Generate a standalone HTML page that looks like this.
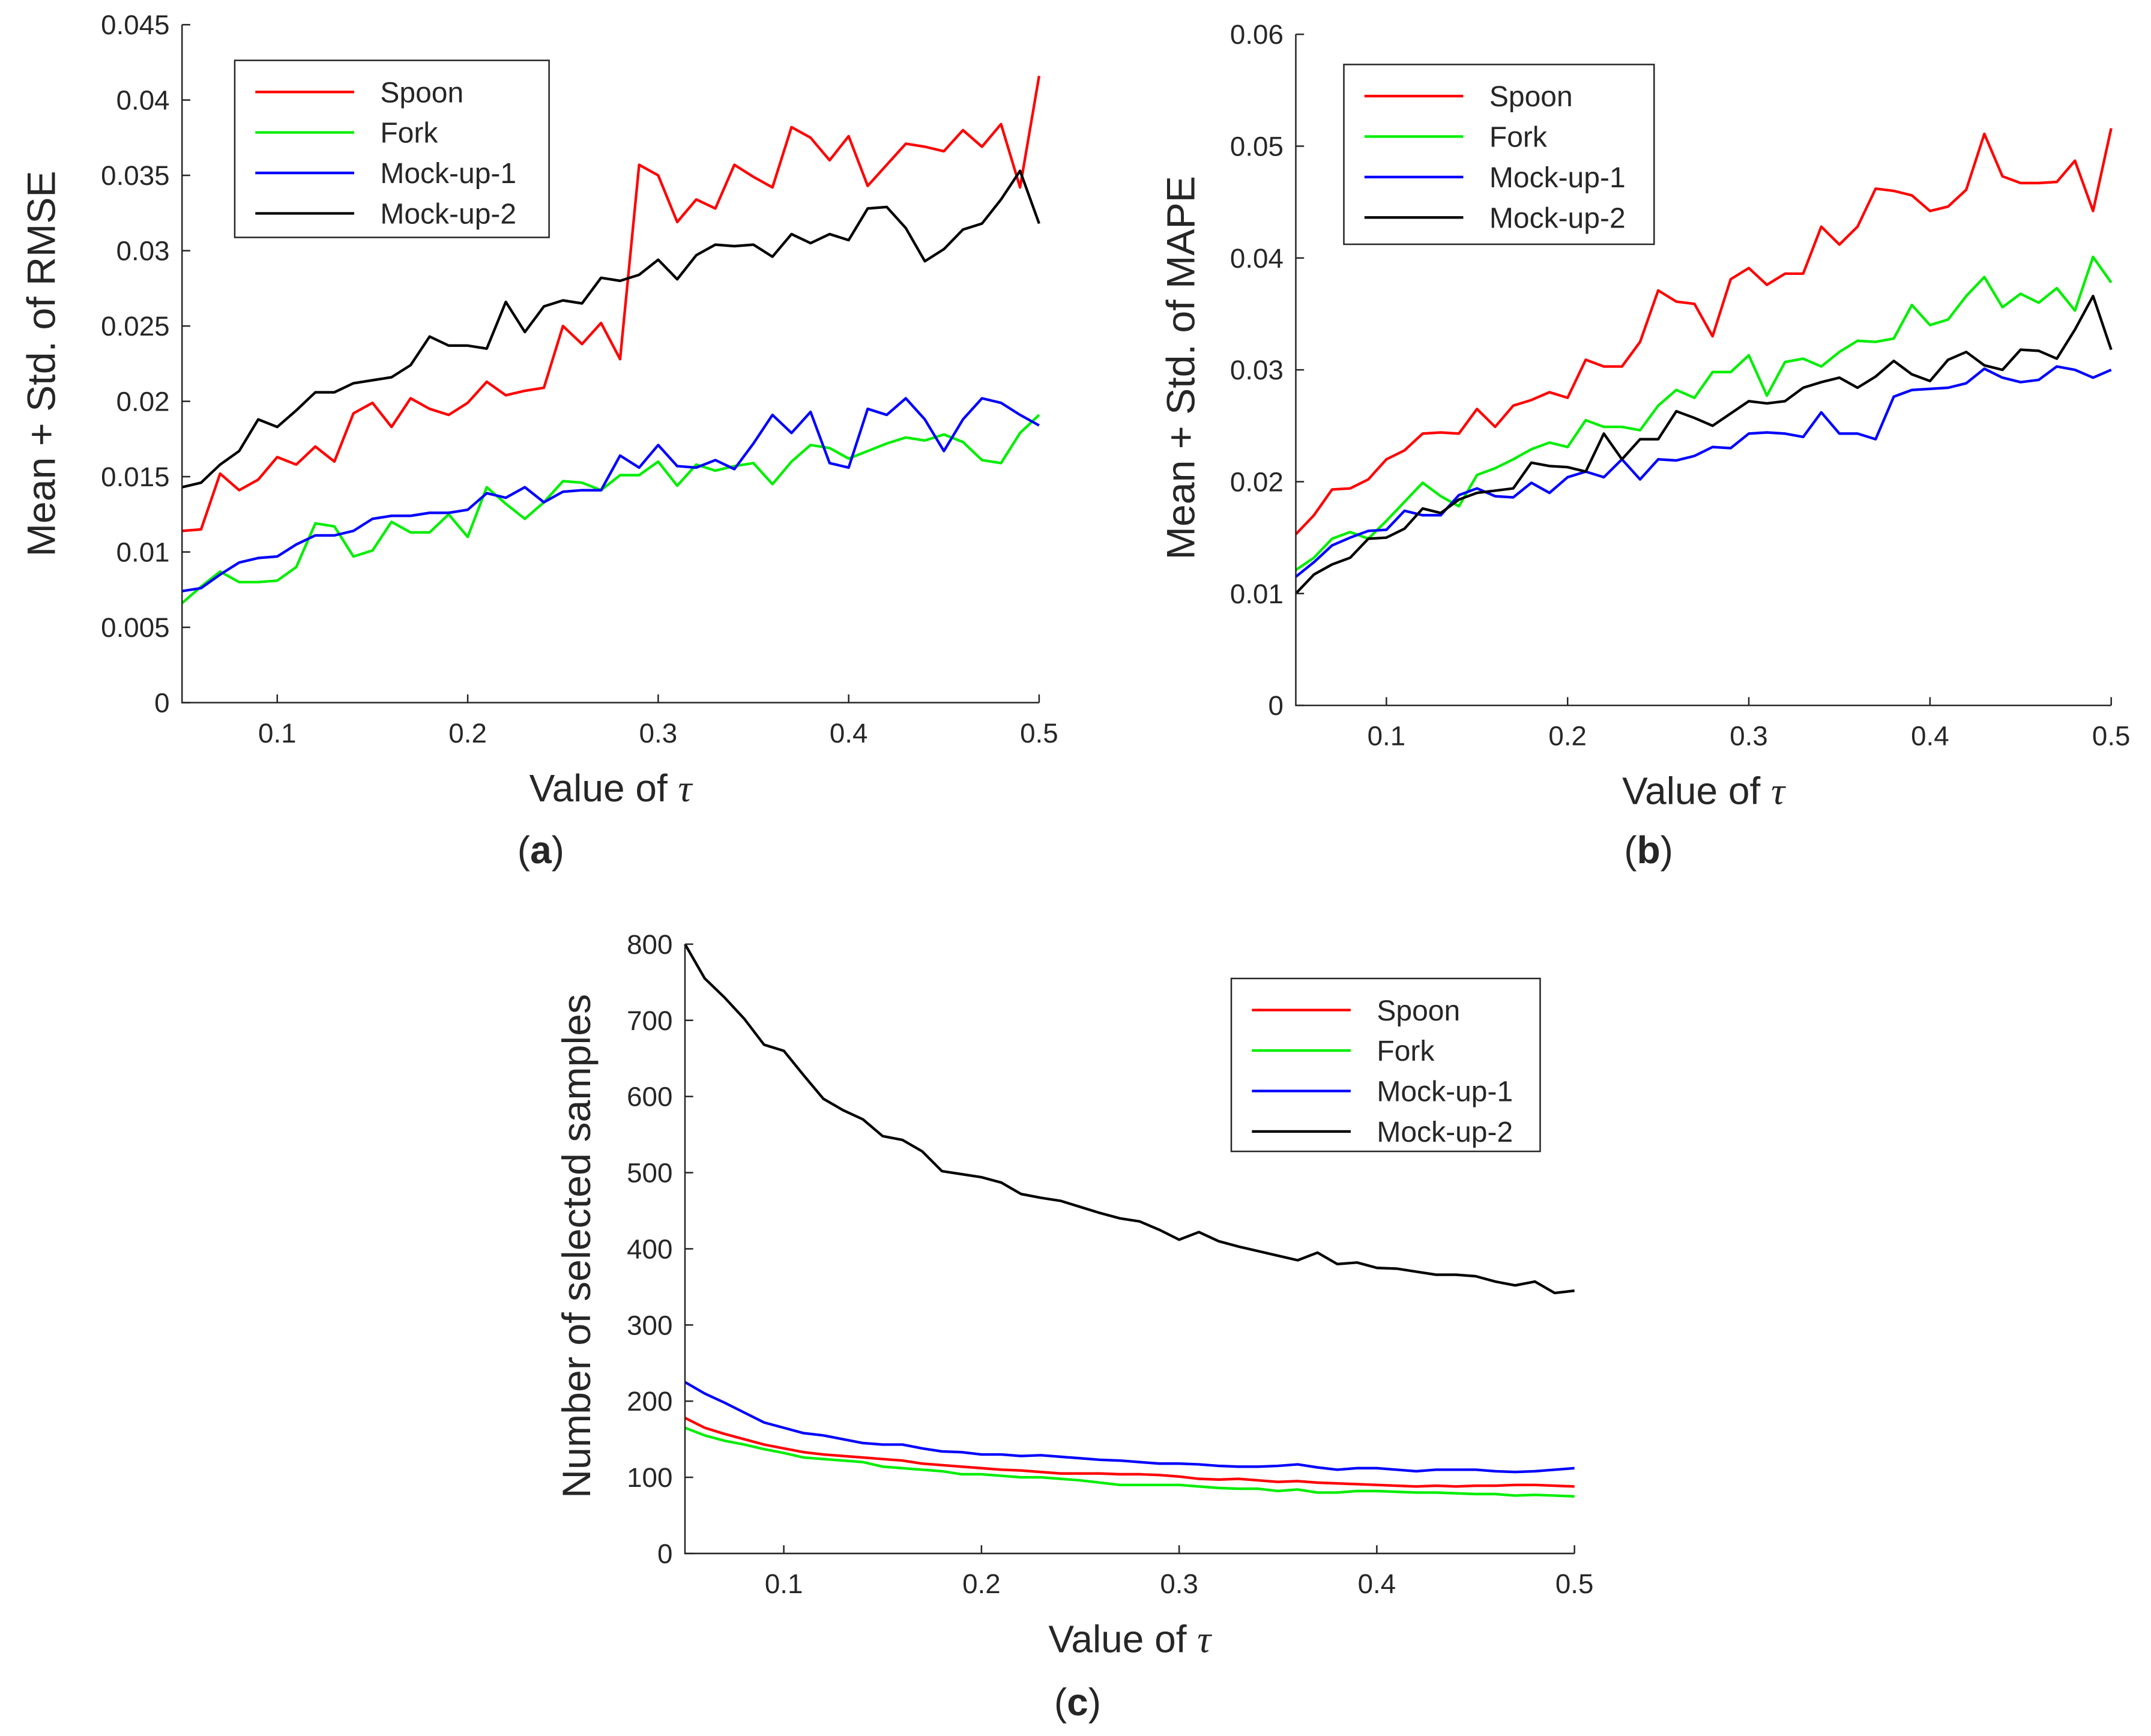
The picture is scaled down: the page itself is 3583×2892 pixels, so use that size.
<!DOCTYPE html>
<html><head><meta charset="utf-8"><style>
html,body{margin:0;padding:0;background:#fff}
svg{display:block}
text{font-family:"Liberation Sans",Helvetica,Arial,sans-serif;fill:#262626}
</style></head><body>
<svg id="fig" width="3583" height="2892" viewBox="0 0 1567 1265" preserveAspectRatio="none" xmlns="http://www.w3.org/2000/svg"></svg>
<script>
const tau = [];
for (let i = 0; i < 46; i++) tau.push(0.05 + i * 0.01);
const seriesNames = ["Spoon", "Fork", "Mock-up-1", "Mock-up-2"];
const xTicks = [0.1, 0.2, 0.3, 0.4, 0.5];
const xTickLabels = ["0.1", "0.2", "0.3", "0.4", "0.5"];
const yTicksA = [0, 0.005, 0.01, 0.015, 0.02, 0.025, 0.03, 0.035, 0.04, 0.045];
const yTickLabelsA = ["0", "0.005", "0.01", "0.015", "0.02", "0.025", "0.03", "0.035", "0.04", "0.045"];
const yTicksB = [0, 0.01, 0.02, 0.03, 0.04, 0.05, 0.06];
const yTickLabelsB = ["0", "0.01", "0.02", "0.03", "0.04", "0.05", "0.06"];
const yTicksC = [0, 100, 200, 300, 400, 500, 600, 700, 800];
const yTickLabelsC = ["0", "100", "200", "300", "400", "500", "600", "700", "800"];

const spoonA = [.0114,.0115,.0152,.0141,.0148,.0163,.0158,.0170,.0160,.0192,.0199,.0183,.0202,.0195,.0191,.0199,.0213,.0204,.0207,.0209,.0250,.0238,.0252,.0228,.0357,.0350,.0319,.0334,.0328,.0357,.0349,.0342,.0382,.0375,.0360,.0376,.0343,.0357,.0371,.0369,.0366,.0380,.0369,.0384,.0342,.0416];
const forkA = [.0066,.0077,.0087,.0080,.0080,.0081,.0090,.0119,.0117,.0097,.0101,.0120,.0113,.0113,.0125,.0110,.0143,.0132,.0122,.0133,.0147,.0146,.0141,.0151,.0151,.0160,.0144,.0158,.0154,.0157,.0159,.0145,.0160,.0171,.0169,.0162,.0167,.0172,.0176,.0174,.0178,.0173,.0161,.0159,.0179,.0191];
const mock1A = [.0074,.0076,.0085,.0093,.0096,.0097,.0105,.0111,.0111,.0114,.0122,.0124,.0124,.0126,.0126,.0128,.0139,.0136,.0143,.0133,.0140,.0141,.0141,.0164,.0156,.0171,.0157,.0156,.0161,.0155,.0172,.0191,.0179,.0193,.0159,.0156,.0195,.0191,.0202,.0188,.0167,.0188,.0202,.0199,.0191,.0184];
const mock2A = [.0143,.0146,.0158,.0167,.0188,.0183,.0194,.0206,.0206,.0212,.0214,.0216,.0224,.0243,.0237,.0237,.0235,.0266,.0246,.0263,.0267,.0265,.0282,.0280,.0284,.0294,.0281,.0297,.0304,.0303,.0304,.0296,.0311,.0305,.0311,.0307,.0328,.0329,.0315,.0293,.0301,.0314,.0318,.0334,.0353,.0318];

const spoonB = [.0153,.0170,.0193,.0194,.0202,.0220,.0228,.0243,.0244,.0243,.0265,.0249,.0268,.0273,.0280,.0275,.0309,.0303,.0303,.0325,.0371,.0361,.0359,.0330,.0381,.0391,.0376,.0386,.0386,.0428,.0412,.0428,.0462,.0460,.0456,.0442,.0446,.0461,.0511,.0473,.0467,.0467,.0468,.0487,.0442,.0516];
const forkB = [.0121,.0132,.0149,.0155,.0149,.0165,.0182,.0199,.0187,.0178,.0206,.0212,.0220,.0229,.0235,.0231,.0255,.0249,.0249,.0246,.0268,.0282,.0275,.0298,.0298,.0313,.0277,.0307,.0310,.0303,.0316,.0326,.0325,.0328,.0358,.0340,.0345,.0366,.0383,.0356,.0368,.0360,.0373,.0353,.0401,.0378];
const mock1B = [.0115,.0128,.0143,.0150,.0156,.0157,.0174,.0170,.0170,.0188,.0194,.0187,.0186,.0199,.0190,.0204,.0209,.0204,.0220,.0202,.0220,.0219,.0223,.0231,.0230,.0243,.0244,.0243,.0240,.0262,.0243,.0243,.0238,.0276,.0282,.0283,.0284,.0288,.0301,.0293,.0289,.0291,.0303,.0300,.0293,.0300];
const mock2B = [.0100,.0117,.0126,.0132,.0149,.0150,.0158,.0176,.0172,.0184,.0190,.0192,.0194,.0217,.0214,.0213,.0209,.0243,.0220,.0238,.0238,.0263,.0257,.0250,.0261,.0272,.0270,.0272,.0284,.0289,.0293,.0284,.0294,.0308,.0296,.0290,.0309,.0316,.0304,.0300,.0318,.0317,.0310,.0336,.0366,.0318];

const spoonC = [178,165,157,150,143,138,133,130,128,126,124,122,118,116,114,112,110,109,107,105,105,105,104,104,103,101,98,97,98,96,94,95,93,92,91,90,89,88,89,88,89,89,90,90,89,88];
const forkC = [165,155,148,143,137,132,126,124,122,120,114,112,110,108,104,104,102,100,100,98,96,93,90,90,90,90,88,86,85,85,82,84,80,80,82,82,81,80,80,79,78,78,76,77,76,75];
const mock1C = [225,210,198,185,172,165,158,155,150,145,143,143,138,134,133,130,130,128,129,127,125,123,122,120,118,118,117,115,114,114,115,117,113,110,112,112,110,108,110,110,110,108,107,108,110,112];
const mock2C = [800,755,730,702,668,660,628,597,582,570,548,543,528,502,498,494,487,472,467,463,455,447,440,436,425,412,422,410,403,397,391,385,395,380,382,375,374,370,366,366,364,357,352,357,342,345];

const colors = ["#ff0000", "#00ee00", "#0000ff", "#000000"];
const NS = "http://www.w3.org/2000/svg";
const svg = document.getElementById("fig");

function mk(tag, attrs, parent) {
  const e = document.createElementNS(NS, tag);
  for (const k in attrs) e.setAttribute(k, attrs[k]);
  (parent || svg).appendChild(e);
  return e;
}

function drawPanel(id, cfg) {
  const g = mk("g", {});
  
  
  const sx = v => cfg.x0 + (v - 0.05) / 0.45 * (cfg.x1 - cfg.x0);
  const sy = v => cfg.y0 - (v - cfg.ymin) / (cfg.ymax - cfg.ymin) * (cfg.y0 - cfg.y1);
  cfg.series.forEach((arr, si) => {
    const d = arr.map((v, i) => (i ? "L" : "M") + sx(tau[i]).toFixed(2) + "," + sy(v).toFixed(2)).join(" ");
    const p = mk("path", {d: d, fill: "none", stroke: colors[si], "stroke-width": 1.9, "stroke-linejoin": "round"}, g);
    
    
  });
  const ax = mk("path", {d: `M${cfg.x0},${cfg.y1} L${cfg.x0},${cfg.y0} L${cfg.x1},${cfg.y0}`, fill: "none", stroke: "#262626", "stroke-width": 1.1}, g);
  
  
  xTicks.forEach((t, i) => {
    const x = sx(t);
    mk("line", {x1: x, x2: x, y1: cfg.y0, y2: cfg.y0 - 6, stroke: "#262626", "stroke-width": 1.1}, g);
    const tx = mk("text", {x: x, y: cfg.y0 + 29, "font-size": 20, "text-anchor": "middle"}, g);
    tx.textContent = xTickLabels[i];
    
    
  });
  cfg.yTicks.forEach((t, i) => {
    const y = sy(t);
    mk("line", {x1: cfg.x0, x2: cfg.x0 + 6, y1: y, y2: y, stroke: "#262626", "stroke-width": 1.1}, g);
    const tx = mk("text", {x: cfg.x0 - 9, y: y + 7, "font-size": 20, "text-anchor": "end"}, g);
    tx.textContent = cfg.yLabels[i];
    
    
  });
  const xl = mk("text", {x: (cfg.x0 + cfg.x1) / 2, y: cfg.y0 + 72, "font-size": 28, "text-anchor": "middle"}, g);
  xl.innerHTML = 'Value of <tspan font-family="Liberation Serif, serif" font-style="italic">τ</tspan>';
  
  
  const yl = mk("text", {x: 0, y: 0, "font-size": 29, "text-anchor": "middle", transform: `translate(${cfg.ylx},${cfg.yly}) rotate(-90)`}, g);
  yl.textContent = cfg.ytitle;
  
  
  const L = cfg.leg;
  const lg = mk("g", {}, g);
  
  
  mk("rect", {x: L.x, y: L.y, width: L.w, height: L.h, fill: "#fff", stroke: "#262626", "stroke-width": 1.1}, lg);
  seriesNames.forEach((n, i) => {
    const y = L.y + 23 + i * 29.5;
    const e = mk("g", {}, lg);
    
    
    mk("line", {x1: L.x + 15, x2: L.x + 87, y1: y, y2: y, stroke: colors[i], "stroke-width": 1.9}, e);
    const t = mk("text", {x: L.x + 106, y: y + 7.5, "font-size": 21}, e);
    t.textContent = n;
  });
  const cap = mk("text", {x: cfg.capx, y: cfg.capy, "font-size": 28, "text-anchor": "middle", "font-family": "Liberation Serif, serif"}, g);
  cap.innerHTML = '(<tspan font-weight="bold">' + cfg.cap + '</tspan>)';
  
  
}

drawPanel("panel-a", {x0: 132.6, x1: 757, y0: 512, y1: 18, ymin: 0, ymax: 0.045,
  series: [spoonA, forkA, mock1A, mock2A], yTicks: yTicksA, yLabels: yTickLabelsA,
  ytitle: "Mean + Std. of RMSE", ylx: 40, yly: 265,
  leg: {x: 171, y: 44, w: 229, h: 129}, cap: "a", capx: 394, capy: 629});
drawPanel("panel-b", {x0: 944, x1: 1538, y0: 514, y1: 25, ymin: 0, ymax: 0.06,
  series: [spoonB, forkB, mock1B, mock2B], yTicks: yTicksB, yLabels: yTickLabelsB,
  ytitle: "Mean + Std. of MAPE", ylx: 870, yly: 268,
  leg: {x: 979, y: 47, w: 226, h: 131}, cap: "b", capx: 1201, capy: 629});
drawPanel("panel-c", {x0: 499, x1: 1147, y0: 1132, y1: 688, ymin: 0, ymax: 800,
  series: [spoonC, forkC, mock1C, mock2C], yTicks: yTicksC, yLabels: yTickLabelsC,
  ytitle: "Number of selected samples", ylx: 430, yly: 908,
  leg: {x: 897, y: 713, w: 225, h: 126}, cap: "c", capx: 785, capy: 1250});
</script>
</body></html>
